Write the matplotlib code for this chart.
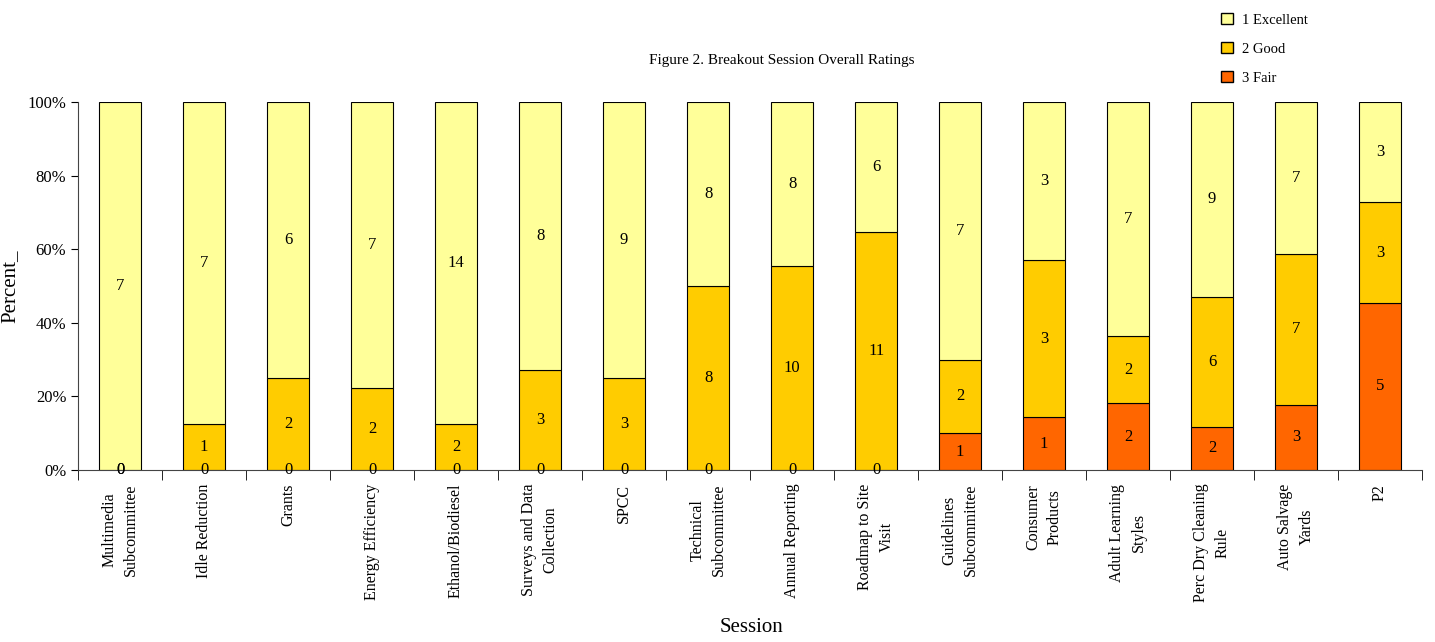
import numpy as np
import matplotlib.pyplot as plt
from matplotlib.patches import Patch

sessions = [
    'Multimedia\nSubcommittee', 'Idle Reduction', 'Grants', 'Energy Efficiency',
    'Ethanol/Biodiesel', 'Surveys and Data\nCollection', 'SPCC', 'Technical\nSubcommittee',
    'Annual Reporting', 'Roadmap to Site\nVisit', 'Guidelines\nSubcommittee', 'Consumer\nProducts',
    'Adult Learning\nStyles', 'Perc Dry Cleaning\nRule', 'Auto Salvage\nYards', 'P2'
]
fair = [0, 0, 0, 0, 0, 0, 0, 0, 0, 0, 1, 1, 2, 2, 3, 5]
good = [0, 1, 2, 2, 2, 3, 3, 8, 10, 11, 2, 3, 2, 6, 7, 3]
excellent = [7, 7, 6, 7, 14, 8, 9, 8, 8, 6, 7, 3, 7, 9, 7, 3]

colors = {'fair': '#FF6600', 'good': '#FFCC00', 'excellent': '#FFFF99'}

plt.rcParams['font.family'] = ['Liberation Serif', 'DejaVu Serif']

fig = plt.figure(figsize=(14.35, 6.42), dpi=100)
ax = fig.add_axes([0.0544, 0.268, 0.9366, 0.573])

x = np.arange(len(sessions))
tot = np.array(fair) + np.array(good) + np.array(excellent)
series = [('fair', fair), ('good', good), ('excellent', excellent)]
bottom = np.zeros(len(sessions))
for name, vals in series:
    pct = np.array(vals) / tot * 100
    ax.bar(x, pct, 0.5, bottom=bottom, color=colors[name], edgecolor='black', linewidth=0.8)
    for i, v in enumerate(vals):
        ax.text(x[i], bottom[i] + pct[i] / 2, str(v), ha='center', va='center', fontsize=12)
    bottom += pct

ax.set_xlim(-0.5, len(sessions) - 0.5)
ax.set_ylim(0, 100)
ax.set_yticks([0, 20, 40, 60, 80, 100])
ax.set_yticklabels(['0%', '20%', '40%', '60%', '80%', '100%'], fontsize=12)
ax.set_xticks(x)
ax.set_xticklabels(sessions, rotation=90, ha='center', va='top', multialignment='center',
                   fontsize=11.5, linespacing=1.45)
ax.tick_params(axis='x', which='major', length=0, pad=10)
ax.set_xticks(np.arange(-0.5, len(sessions)), minor=True)
ax.tick_params(axis='x', which='minor', length=7, direction='out')
ax.tick_params(axis='y', length=5, direction='out')
for s in ['top', 'right']:
    ax.spines[s].set_visible(False)
ax.spines['bottom'].set_color('#444444')
ax.spines['left'].set_color('#444444')

ax.set_ylabel('Percent_', fontsize=15, labelpad=6)
fig.text(0.524, 0.022, 'Session', ha='center', va='center', fontsize=15)
fig.text(0.545, 0.905, 'Figure 2. Breakout Session Overall Ratings', ha='center', va='center', fontsize=11)

handles = [Patch(facecolor=colors['excellent'], edgecolor='black', label='1 Excellent'),
           Patch(facecolor=colors['good'], edgecolor='black', label='2 Good'),
           Patch(facecolor=colors['fair'], edgecolor='black', label='3 Fair')]
fig.legend(handles=handles, loc='upper left', bbox_to_anchor=(0.842, 1.0), frameon=False,
           fontsize=10.5, handlelength=0.8, handleheight=0.8, labelspacing=1.05, handletextpad=0.6)

fig.savefig('out.png', dpi=100)
